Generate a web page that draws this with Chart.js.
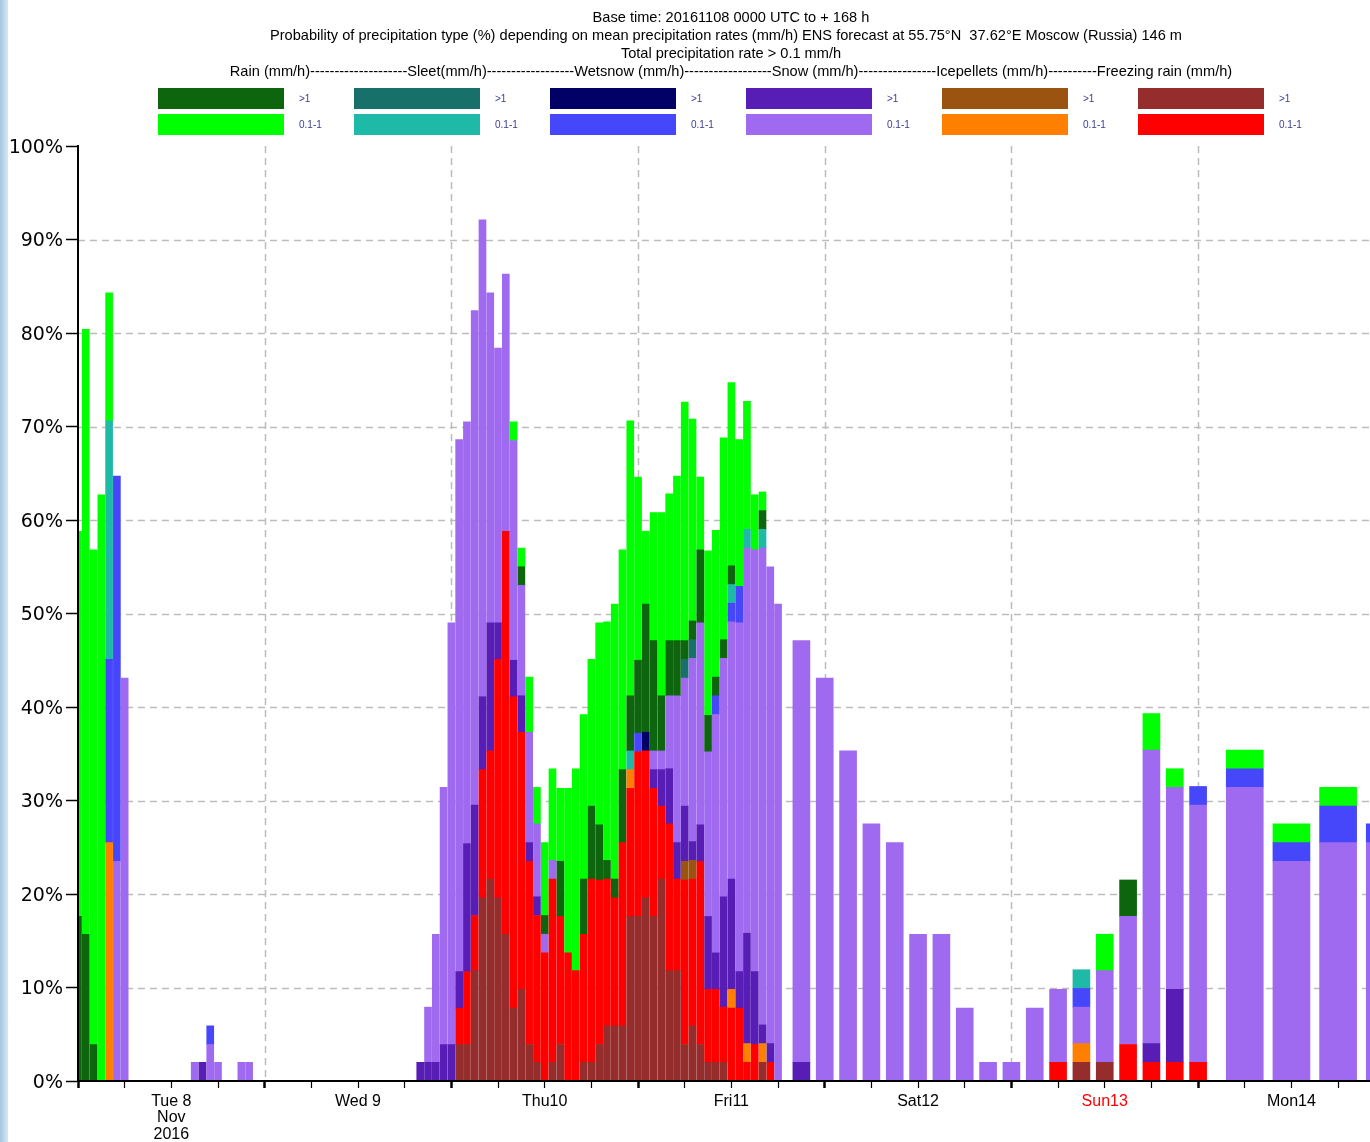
<!DOCTYPE html>
<html>
<head>
<meta charset="utf-8">
<title>Precipitation type ENS Moscow</title>
<script src="https://cdn.jsdelivr.net/npm/chart.js@4.4.1/dist/chart.umd.min.js"></script>
<style>
  body { margin: 0; background: #fff; width: 1370px; height: 1142px; position: relative; overflow: hidden; font-family: "Liberation Sans", Arial, sans-serif; }
  .strip { position: absolute; left: 0; top: 0; width: 8px; height: 1142px; background: linear-gradient(90deg, #a3c6e2, #d8e7f3); }
  #chart { position: absolute; left: 0; top: 0; }
  .title { position: absolute; left: 0; width: 1462px; text-align: center; font-size: 14.6px; color: #000; white-space: pre; line-height: 16px; }
  .box { position: absolute; width: 126px; height: 21px; }
  .lab { position: absolute; font-size: 10px; color: #3b3b94; line-height: 12px; }
</style>
</head>
<body>
<div class="strip"></div>
<canvas id="chart" width="1370" height="1142"></canvas>
<div class="title" style="top:9px">Base time: 20161108 0000 UTC to + 168 h</div>
<div class="title" style="top:27px;left:-5px">Probability of precipitation type (%) depending on mean precipitation rates (mm/h) ENS forecast at 55.75°N  37.62°E Moscow (Russia) 146 m</div>
<div class="title" style="top:45px">Total precipitation rate &gt; 0.1 mm/h</div>
<div class="title" style="top:63px">Rain (mm/h)--------------------Sleet(mm/h)------------------Wetsnow (mm/h)------------------Snow (mm/h)----------------Icepellets (mm/h)----------Freezing rain (mm/h)</div>
<div id="legend"></div>
<script>
// forecast steps (hours from base time): hourly to 90, 3-hourly to 144, 6-hourly to 168
const steps = [
  0,1,2,3,4,5,6,7,8,9, 10,11,12,13,14,15,16,17,18,19, 20,21,22,23,24,25,26,27,28,29,
  30,31,32,33,34,35,36,37,38,39, 40,41,42,43,44,45,46,47,48,49, 50,51,52,53,54,55,56,57,58,59,
  60,61,62,63,64,65,66,67,68,69, 70,71,72,73,74,75,76,77,78,79, 80,81,82,83,84,85,86,87,88,89,90,
  93,96,99,102,105,108,111,114,117,120,123,126,129,132,135,138,141,144,
  150,156,162,168
];

// probabilities (%) per type and rate class, same order as steps
const frzHeavy = [
  0,0,0,0,0,0,0,0,0,0, 0,0,0,0,0,0,0,0,0,0, 0,0,0,0,0,0,0,0,0,0, 0,0,0,0,0,0,0,0,0,0,
  0,0,0,0,0,0,0,0,0,3.9, 3.9,11.8,19.6,21.6,19.6,15.7,7.8,9.8,3.9,2.0,
  0,2.0,3.9,0,0,2.0,2.0,3.9,5.9,5.9, 5.9,17.6,17.6,19.6,17.6,21.6,11.8,11.8,3.9,5.9,
  3.9,2.0,2.0,2.0,0,0,0,0,2.0,0,0,
  0,0,0,0,0,0,0,0,0,0,0,0,2.0,2.0,0,0,0,0,
  0,0,0,0
];
const frzLight = [
  0,0,0,0,0,0,0,0,0,0, 0,0,0,0,0,0,0,0,0,0, 0,0,0,0,0,0,0,0,0,0, 0,0,0,0,0,0,0,0,0,0,
  0,0,0,0,0,0,0,0,0,3.9, 7.8,5.9,13.7,13.7,25.5,43.1,33.3,27.5,19.6,15.7,
  13.7,19.6,13.7,13.7,11.8,13.7,19.6,17.6,15.7,13.7, 19.6,13.7,17.6,15.7,13.7,7.8,15.7,9.8,17.6,15.7,
  19.6,7.8,7.8,5.9,7.8,7.8,2.0,3.9,0,2.0,0,
  0,0,0,0,0,0,0,0,0,0,0,2.0,0,0,3.9,2.0,2.0,2.0,
  0,0,0,0
];
const iceHeavy = [
  0,0,0,0,0,0,0,0,0,0, 0,0,0,0,0,0,0,0,0,0, 0,0,0,0,0,0,0,0,0,0, 0,0,0,0,0,0,0,0,0,0,
  0,0,0,0,0,0,0,0,0,0, 0,0,0,0,0,0,0,0,0,0,
  0,0,0,0,0,0,0,0,0,0, 0,0,0,0,0,0,0,0,2.0,2.0,
  0,0,0,0,0,0,0,0,0,0,0,
  0,0,0,0,0,0,0,0,0,0,0,0,0,0,0,0,0,0,
  0,0,0,0
];
const iceLight = [
  0,0,0,0,25.5,0,0,0,0,0, 0,0,0,0,0,0,0,0,0,0, 0,0,0,0,0,0,0,0,0,0, 0,0,0,0,0,0,0,0,0,0,
  0,0,0,0,0,0,0,0,0,0, 0,0,0,0,0,0,0,0,0,0,
  0,0,0,0,0,0,0,0,0,0, 0,2.0,0,0,0,0,0,0,0,0,
  0,0,0,0,2.0,0,2.0,0,2.0,0,0,
  0,0,0,0,0,0,0,0,0,0,0,0,2.0,0,0,0,0,0,
  0,0,0,0
];
const snowHeavy = [
  0,0,0,0,0,0,0,0,0,0, 0,0,0,0,0,0,2.0,0,0,0, 0,0,0,0,0,0,0,0,0,0, 0,0,0,0,0,0,0,0,0,0,
  0,0,0,0,2.0,2.0,2.0,3.9,3.9,3.9, 13.7,11.8,7.8,13.7,3.9,0,3.9,3.9,2.0,2.0,
  0,0,0,0,0,0,0,0,0,0, 0,0,0,0,2.0,3.9,5.9,3.9,5.9,2.0,
  3.9,7.8,3.9,11.8,11.8,3.9,11.8,7.8,2.0,2.0,0,
  2.0,0,0,0,0,0,0,0,0,0,0,0,0,0,0,2.0,7.8,0,
  0,0,0,0
];
const snowLight = [
  0,0,0,0,0,23.5,43.1,0,0,0, 0,0,0,0,0,2.0,0,3.9,2.0,0, 0,2.0,2.0,0,0,0,0,0,0,0, 0,0,0,0,0,0,0,0,0,0,
  0,0,0,0,0,5.9,13.7,27.5,45.1,56.9, 45.1,52.9,51.0,35.3,29.4,27.5,23.5,11.8,11.8,7.8,
  2.0,2.0,0,0,0,0,0,0,0,0, 0,0,0,0,2.0,2.0,7.8,15.7,13.7,19.6,
  21.6,17.6,25.5,25.5,27.5,37.3,41.2,45.1,51.0,51.0,51.0,
  45.1,43.1,35.3,27.5,25.5,15.7,15.7,7.8,2.0,2.0,7.8,7.8,3.9,9.8,13.7,31.4,21.6,27.5,
  31.4,23.5,25.5,25.5
];
const wetHeavy = [
  0,0,0,0,0,0,0,0,0,0, 0,0,0,0,0,0,0,0,0,0, 0,0,0,0,0,0,0,0,0,0, 0,0,0,0,0,0,0,0,0,0,
  0,0,0,0,0,0,0,0,0,0, 0,0,0,0,0,0,0,0,0,0,
  0,0,0,0,0,0,0,0,0,0, 0,0,0,2.0,0,0,0,0,0,0,
  0,0,0,0,0,0,0,0,0,0,0,
  0,0,0,0,0,0,0,0,0,0,0,0,0,0,0,0,0,0,
  0,0,0,0
];
const wetLight = [
  0,0,0,0,19.6,41.2,0,0,0,0, 0,0,0,0,0,0,0,2.0,0,0, 0,0,0,0,0,0,0,0,0,0, 0,0,0,0,0,0,0,0,0,0,
  0,0,0,0,0,0,0,0,0,0, 0,0,0,0,0,0,0,0,0,0,
  0,0,0,0,0,0,0,0,0,0, 0,0,2.0,0,0,0,0,0,0,0,
  0,0,2.0,0,2.0,3.9,0,0,0,0,0,
  0,0,0,0,0,0,0,0,0,0,0,0,2.0,0,0,0,0,2.0,
  2.0,2.0,3.9,2.0
];
const sleetHeavy = [
  0,0,0,0,0,0,0,0,0,0, 0,0,0,0,0,0,0,0,0,0, 0,0,0,0,0,0,0,0,0,0, 0,0,0,0,0,0,0,0,0,0,
  0,0,0,0,0,0,0,0,0,0, 0,0,0,0,0,0,0,0,0,0,
  0,0,0,0,0,0,0,0,0,0, 0,0,0,0,0,0,0,0,2.0,2.0,
  0,0,0,0,0,0,0,0,0,0,0,
  0,0,0,0,0,0,0,0,0,0,0,0,0,0,0,0,0,0,
  0,0,0,0
];
const sleetLight = [
  0,0,0,0,25.5,0,0,0,0,0, 0,0,0,0,0,0,0,0,0,0, 0,0,0,0,0,0,0,0,0,0, 0,0,0,0,0,0,0,0,0,0,
  0,0,0,0,0,0,0,0,0,0, 0,0,0,0,0,0,0,0,0,0,
  0,0,0,0,0,0,0,0,0,0, 0,2.0,0,0,0,0,0,0,0,0,
  0,0,0,0,2.0,0,2.0,0,2.0,0,0,
  0,0,0,0,0,0,0,0,0,0,0,0,2.0,0,0,0,0,0,
  0,0,0,0
];
const rainHeavy = [
  17.6,15.7,3.9,0,0,0,0,0,0,0, 0,0,0,0,0,0,0,0,0,0, 0,0,0,0,0,0,0,0,0,0, 0,0,0,0,0,0,0,0,0,0,
  0,0,0,0,0,0,0,0,0,0, 0,0,0,0,0,0,0,2.0,0,0,
  2.0,0,5.9,0,0,5.9,7.8,5.9,2.0,2.0, 7.8,5.9,7.8,13.7,11.8,5.9,5.9,5.9,2.0,2.0,
  7.8,3.9,2.0,2.0,2.0,0,0,0,2.0,0,0,
  0,0,0,0,0,0,0,0,0,0,0,0,0,0,3.9,0,0,0,
  0,0,0,0
];
const rainLight = [
  41.2,64.7,52.9,62.7,13.7,0,0,0,0,0, 0,0,0,0,0,0,0,0,0,0, 0,0,0,0,0,0,0,0,0,0, 0,0,0,0,0,0,0,0,0,0,
  0,0,0,0,0,0,0,0,0,0, 0,0,0,0,0,0,2.0,2.0,5.9,3.9,
  7.8,9.8,7.8,17.6,21.6,17.6,15.7,21.6,25.5,29.4, 23.5,29.4,19.6,7.8,13.7,19.6,15.7,17.6,25.5,21.6,
  7.8,17.6,15.7,21.6,19.6,15.7,13.7,5.9,2.0,0,0,
  0,0,0,0,0,0,0,0,0,0,0,0,0,3.9,0,3.9,2.0,0,
  2.0,2.0,2.0,0
];

const rateLabels = ['>1', '0.1-1'];
const dayTicks = { 12: ['Tue 8', 'Nov', '2016'], 36: 'Wed 9', 60: 'Thu10', 84: 'Fri11', 108: 'Sat12', 132: 'Sun13', 156: 'Mon14' };
const dayLines = [24, 48, 72, 96, 120, 144];
const percentLines = [10, 20, 30, 40, 50, 60, 70, 80, 90];

// stacking order bottom -> top
const series = [
  { name: 'Freezing rain >1',    data: frzHeavy,   color: '#962d2d' },
  { name: 'Freezing rain 0.1-1', data: frzLight,   color: '#ff0000' },
  { name: 'Icepellets >1',       data: iceHeavy,   color: '#9b5310' },
  { name: 'Icepellets 0.1-1',    data: iceLight,   color: '#ff8000' },
  { name: 'Snow >1',             data: snowHeavy,  color: '#571db5' },
  { name: 'Snow 0.1-1',          data: snowLight,  color: '#9f6af0' },
  { name: 'Wetsnow >1',          data: wetHeavy,   color: '#000066' },
  { name: 'Wetsnow 0.1-1',       data: wetLight,   color: '#4646fa' },
  { name: 'Sleet >1',            data: sleetHeavy, color: '#17716a' },
  { name: 'Sleet 0.1-1',         data: sleetLight, color: '#1fb9a8' },
  { name: 'Rain >1',             data: rainHeavy,  color: '#0d650d' },
  { name: 'Rain 0.1-1',          data: rainLight,  color: '#00ff00' }
];

// legend: pairs (heavy, light) per group, ordered rain ... freezing rain
const legend = document.getElementById('legend');
const legendPairs = [[10, 11], [8, 9], [6, 7], [4, 5], [2, 3], [0, 1]];
legendPairs.forEach((pair, g) => {
  const left = 158 + g * 196;
  pair.forEach((si, r) => {
    const top = r === 0 ? 88 : 114;
    const b = document.createElement('div');
    b.className = 'box';
    b.style.left = left + 'px';
    b.style.top = top + 'px';
    b.style.background = series[si].color;
    legend.appendChild(b);
    const l = document.createElement('div');
    l.className = 'lab';
    l.style.left = (left + 141) + 'px';
    l.style.top = (top + 5) + 'px';
    l.textContent = rateLabels[r];
    legend.appendChild(l);
  });
});

// bar widths differ with the step spacing
const stepGroups = [
  { from: 0, to: 90, thickness: 7 },
  { from: 93, to: 144, thickness: 17 },
  { from: 150, to: 168, thickness: 37 }
];

const datasets = [];
stepGroups.forEach(g => {
  series.forEach(s => {
    const pts = [];
    steps.forEach((h, i) => {
      if (h >= g.from && h <= g.to && s.data[i] > 0) pts.push({ x: h, y: s.data[i] });
    });
    datasets.push({
      label: s.name,
      data: pts,
      backgroundColor: s.color,
      borderWidth: 0,
      barThickness: g.thickness,
      stack: 'p',
      clip: 0
    });
  });
});

const dashedGrid = {
  id: 'dashedGrid',
  beforeDatasetsDraw(chart) {
    const { ctx, chartArea: a, scales: { x, y } } = chart;
    ctx.save();
    ctx.strokeStyle = '#bcbcbc';
    ctx.lineWidth = 1.5;
    ctx.setLineDash([7, 5]);
    dayLines.forEach(h => {
      const px = Math.round(x.getPixelForValue(h)) + 0.5;
      ctx.beginPath(); ctx.moveTo(px, a.top); ctx.lineTo(px, a.bottom); ctx.stroke();
    });
    percentLines.forEach(v => {
      const py = Math.round(y.getPixelForValue(v)) + 0.5;
      ctx.beginPath(); ctx.moveTo(a.left, py); ctx.lineTo(a.right, py); ctx.stroke();
    });
    ctx.restore();
  }
};

new Chart(document.getElementById('chart'), {
  type: 'bar',
  data: { datasets: datasets },
  options: {
    responsive: false,
    animation: false,
    layout: { padding: { top: 146, left: 0, right: 0, bottom: 0 } },
    plugins: { legend: { display: false }, tooltip: { enabled: false } },
    scales: {
      x: {
        type: 'linear',
        min: 0,
        max: 166.1,
        offset: false,
        afterFit(scale) { scale.height = 61; },
        border: { display: true, color: '#000', width: 2, z: 1 },
        grid: {
          offset: false,
          drawOnChartArea: false,
          tickLength: 7,
          tickColor: '#000',
          tickWidth: c => (c.tick && c.tick.value % 24 === 0) ? 2.5 : 1.2
        },
        ticks: {
          stepSize: 6,
          autoSkip: false,
          maxRotation: 0,
          includeBounds: false,
          padding: 5,
          color: c => (c.tick && c.tick.value === 132) ? '#ff0000' : '#000',
          font: { family: 'Liberation Sans', size: 16, lineHeight: 1.03 },
          callback: v => dayTicks[v] || ''
        }
      },
      y: {
        stacked: true,
        min: 0,
        max: 100,
        afterFit(scale) { scale.width = 78; },
        border: { display: true, color: '#000', width: 2, z: 1 },
        grid: { drawOnChartArea: false, tickLength: 12, tickColor: '#000', tickWidth: 1.5 },
        ticks: {
          stepSize: 10,
          padding: 3,
          labelOffset: 2,
          color: '#000',
          font: { family: 'DejaVu Sans', size: 19 },
          callback: v => v + '%'
        }
      }
    }
  },
  plugins: [dashedGrid]
});
</script>
</body>
</html>
